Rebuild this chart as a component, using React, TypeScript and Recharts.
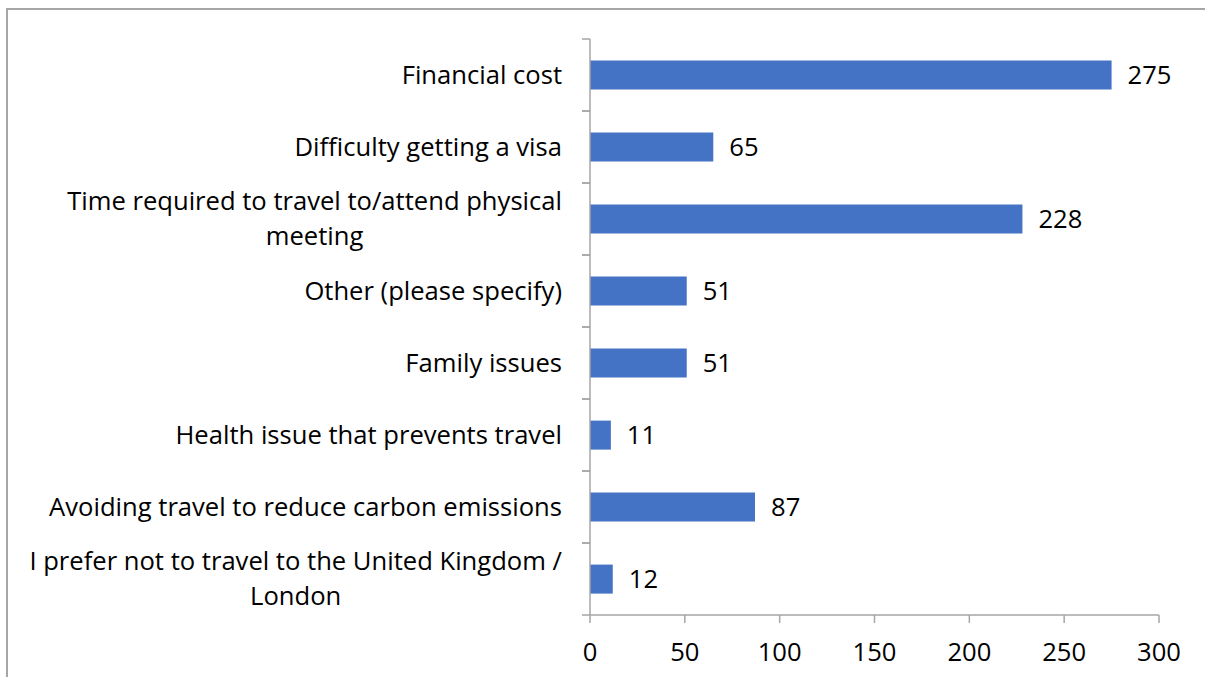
import React from "react";
import { BarChart, Bar, XAxis, YAxis, LabelList } from "recharts";

const categories: string[] = [
  "Financial cost",
  "Difficulty getting a visa",
  "Time required to travel to/attend physical meeting",
  "Other (please specify)",
  "Family issues",
  "Health issue that prevents travel",
  "Avoiding travel to reduce carbon emissions",
  "I prefer not to travel to the United Kingdom / London",
];

const categoryLines: string[][] = [
  ["Financial cost"],
  ["Difficulty getting a visa"],
  ["Time required to travel to/attend physical", "meeting"],
  ["Other (please specify)"],
  ["Family issues"],
  ["Health issue that prevents travel"],
  ["Avoiding travel to reduce carbon emissions"],
  ["I prefer not to travel to the United Kingdom /", "London"],
];

const values: number[] = [275, 65, 228, 51, 51, 11, 87, 12];

const xTicks: number[] = [0, 50, 100, 150, 200, 250, 300];

const data = categories.map((c, i) => ({ name: c, value: values[i] }));

const FONT_NAME = "Open Sans";
const FONT = "'Open Sans', sans-serif";
const FS = 25.6;
const LINE_GAP = 35;
const AXIS_COLOR = "#a6a6a6";

let ctx: CanvasRenderingContext2D | null = null;
function measure(t: string): number {
  if (!ctx) {
    const c = document.createElement("canvas");
    ctx = c.getContext("2d");
  }
  if (!ctx) return t.length * FS * 0.5;
  ctx.font = `${FS}px '${FONT_NAME}'`;
  return ctx.measureText(t).width;
}

const CatTick = (props: any) => {
  const { x, y, payload } = props;
  const idx = categories.indexOf(payload.value);
  const lines = idx >= 0 ? categoryLines[idx] : [String(payload.value)];
  const half = typeof payload.offset === "number" && payload.offset > 0 ? payload.offset : 36;
  const axisX = x;
  const right = axisX - 28;
  const tickMarks = (
    <g stroke={AXIS_COLOR} strokeWidth={1.5}>
      <line x1={axisX - 8} x2={axisX} y1={y - half} y2={y - half} />
      <line x1={axisX - 8} x2={axisX} y1={y + half} y2={y + half} />
    </g>
  );
  if (lines.length === 1) {
    return (
      <g>
        {tickMarks}
        <text x={right} y={y} dy="0.35em" textAnchor="end" fontSize={FS} fontFamily={FONT} fill="#000">
          {lines[0]}
        </text>
      </g>
    );
  }
  const w = Math.max(...lines.map(measure));
  const cx = right - w / 2;
  const startY = y - ((lines.length - 1) * LINE_GAP) / 2;
  return (
    <g>
      {tickMarks}
      <text x={cx} y={startY} textAnchor="middle" fontSize={FS} fontFamily={FONT} fill="#000">
        {lines.map((l, i) => (
          <tspan key={i} x={cx} y={startY + i * LINE_GAP} dy="0.35em">
            {l}
          </tspan>
        ))}
      </text>
    </g>
  );
};

export default function App() {
  return (
    <div style={{ position: "absolute", left: 0, top: 0, width: 1205, height: 677, overflow: "hidden", background: "#fff" }}>
      <div
        style={{
          position: "absolute",
          left: 6,
          top: 8,
          width: 1400,
          height: 900,
          borderTop: "2px solid #a6a6a6",
          borderLeft: "2px solid #a6a6a6",
        }}
      />
      <div style={{ position: "absolute", left: 0, top: 0 }}>
        <BarChart
          width={1205}
          height={677}
          data={data}
          layout="vertical"
          margin={{ top: 39, right: 46, bottom: 0, left: 0 }}
          barCategoryGap="30%"
        >
          <XAxis
            type="number"
            domain={[0, 300]}
            ticks={xTicks}
            height={62}
            tickSize={8}
            tickMargin={20}
            stroke={AXIS_COLOR}
            strokeWidth={1.5}
            tick={{ fill: "#000", fontSize: FS, fontFamily: FONT }}
            interval={0}
          />
          <YAxis
            type="category"
            dataKey="name"
            width={590}
            axisLine={{ stroke: AXIS_COLOR, strokeWidth: 1.5 }}
            tickLine={false}
            tickSize={0}
            tickMargin={0}
            tick={CatTick}
            interval={0}
          />
          <Bar dataKey="value" fill="#4472C4" isAnimationActive={false}>
            <LabelList dataKey="value" position="right" offset={16} fill="#000" fontSize={FS} fontFamily={FONT} />
          </Bar>
        </BarChart>
      </div>
    </div>
  );
}
